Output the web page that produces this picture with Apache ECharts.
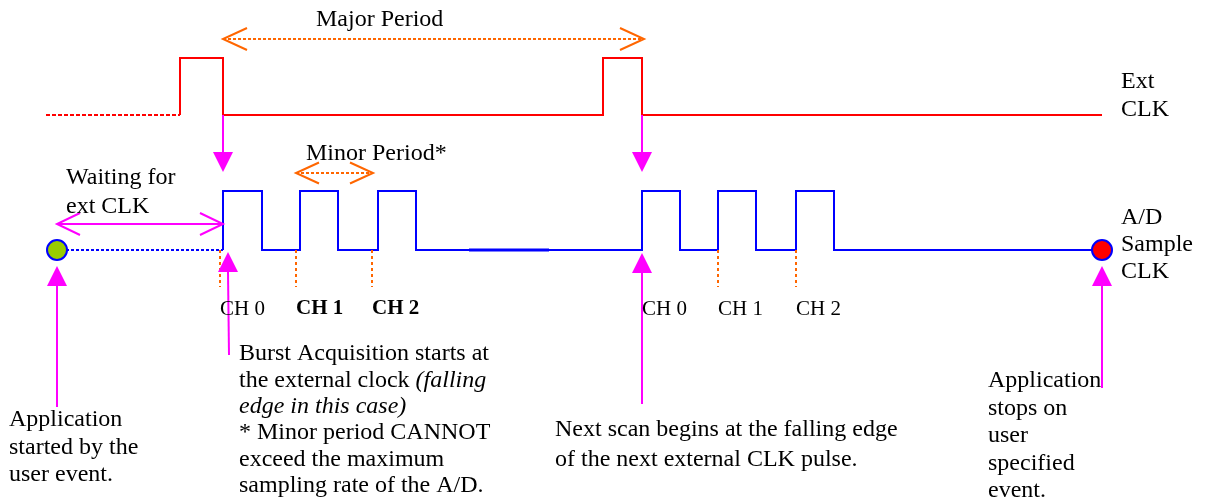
<!DOCTYPE html>
<html>
<head>
<meta charset="utf-8">
<script src="https://cdn.jsdelivr.net/npm/echarts@6/dist/echarts.min.js"></script>
<style>
  html, body { margin: 0; padding: 0; background: #fff; }
  #chart { width: 1205px; height: 503px; }
</style>
</head>
<body>
<div id="chart"></div>
<script>
// 信号电平 (画布坐标，y向下)
var extLow = 115;
var extHigh = 58;
var adLow = 250;
var adHigh = 191;

// 外部时钟脉冲: [上升沿, 下降沿]
var extPulses = [[180, 223], [603, 642]];
var extDottedFrom = 46;
var extEnd = 1102;

// A/D 采样时钟脉冲
var adPulses = [[223, 262], [300, 338], [378, 416], [642, 680], [718, 756], [796, 834]];
var adStartX = 57;
var adEndX = 1102;

// 通道刻度
var chTickX = [220, 296, 372, 718, 796];
var chNames = ['CH 0', 'CH 1', 'CH 2', 'CH 0', 'CH 1', 'CH 2'];
var chLabelX = [220, 296, 372, 642, 718, 796];
var chBold = [false, true, true, false, false, false];

// 周期箭头 [起点, 终点, y]
var majorSpan = [223, 644, 39];
var minorSpan = [296, 373, 173];
var waitSpan = [57, 223, 224];

// 品红指示箭头 [尾x, 尾y, 尖x, 尖y]
var pointerDown = [[223, 115, 223, 172], [642, 115, 642, 172]];
var pointerUp = [[57, 407, 57, 266], [229, 355, 228, 252], [642, 404, 642, 253], [1102, 388, 1102, 266]];

var fontFamily = "'Liberation Serif', 'Times New Roman', serif";

function stepPath(start, end, low, high, pulses) {
	var pts = [[start, low]];
	pulses.forEach(function (p) {
		pts.push([p[0], low], [p[0], high], [p[1], high], [p[1], low]);
	});
	pts.push([end, low]);
	return pts;
}

function chevron(tipX, tipY, dir, dx, dy) {
	// dir = 1 指向右, -1 指向左
	return [[tipX - dir * dx, tipY - dy], [tipX, tipY], [tipX - dir * dx, tipY + dy]];
}

function seg(coords, color, type, width) {
	return { coords: coords, lineStyle: { color: color, type: type || 'solid', width: width || 2, opacity: 1 } };
}

var orange = '#ff6600';
var magenta = '#ff00ff';
var paths = [];

// Ext CLK
paths.push(seg([[extDottedFrom, extLow], [extPulses[0][0], extLow]], '#ff0000', [4, 2]));
paths.push(seg(stepPath(extPulses[0][0], extEnd, extLow, extHigh, extPulses), '#ff0000'));

// A/D sample CLK
paths.push(seg([[adStartX + 9, adLow], [adPulses[0][0], adLow]], '#0000ff', [3, 2]));
paths.push(seg(stepPath(adPulses[0][0], adEndX, adLow, adHigh, adPulses), '#0000ff'));
paths.push(seg([[469, adLow], [549, adLow]], '#0000ff', 'solid', 3));

// 通道虚线
chTickX.forEach(function (x) {
	paths.push(seg([[x, adLow], [x, 287]], orange, [3, 3]));
});

// Major / Minor period
[[majorSpan, 24, 11], [minorSpan, 23, 10.5]].forEach(function (s) {
	var sp = s[0];
	paths.push(seg([[sp[0], sp[2]], [sp[1], sp[2]]], orange, [3, 2]));
	paths.push(seg(chevron(sp[0], sp[2], -1, s[1], s[2]), orange));
	paths.push(seg(chevron(sp[1], sp[2], 1, s[1], s[2]), orange));
});

// Waiting for ext CLK
paths.push(seg([[waitSpan[0], waitSpan[2]], [waitSpan[1], waitSpan[2]]], magenta));
paths.push(seg(chevron(waitSpan[0], waitSpan[2], -1, 23, 11), magenta));
paths.push(seg(chevron(waitSpan[1], waitSpan[2], 1, 23, 11), magenta));

// 指示箭头线段
var heads = [];
var headLen = 20;
pointerDown.forEach(function (a) {
	paths.push(seg([[a[0], a[1]], [a[2], a[3] - headLen]], magenta));
	heads.push({ value: [a[2], a[3] - headLen / 2], symbolRotate: 180 });
});
pointerUp.forEach(function (a) {
	paths.push(seg([[a[0], a[1]], [a[2], a[3] + headLen]], magenta));
	heads.push({ value: [a[2], a[3] + headLen / 2], symbolRotate: 0 });
});

// 文本
var texts = [
	{ t: 'Major Period', x: 316, y: 6, lh: 27 },
	{ t: 'Minor Period*', x: 306, y: 140, lh: 27 },
	{ t: 'Ext\nCLK', x: 1121, y: 68, lh: 28 },
	{ t: 'A/D\nSample\nCLK', x: 1121, y: 204, lh: 27 },
	{ t: 'Waiting for\next CLK', x: 66, y: 163, lh: 29 },
	{ t: 'Application\nstarted by the\nuser event.', x: 9, y: 406, lh: 27.5 },
	{ t: 'Burst Acquisition starts at\nthe external clock {i|(falling}\n{i|edge in this case)}\n* Minor period CANNOT\nexceed the maximum\nsampling rate of the A/D.', x: 239, y: 341, lh: 26.3 },
	{ t: 'Next scan begins at the falling edge\nof the next external CLK pulse.', x: 555, y: 415, lh: 30 },
	{ t: 'Application\nstops on\nuser\nspecified\nevent.', x: 988, y: 367, lh: 27.5 }
];
var textData = texts.map(function (d) {
	return {
		value: [d.x, d.y], name: d.t,
		label: { lineHeight: d.lh, rich: { i: { fontStyle: 'italic', fontSize: 24, fontFamily: fontFamily, color: '#000', lineHeight: d.lh } } }
	};
});
chNames.forEach(function (n, i) {
	textData.push({
		value: [chLabelX[i], 297], name: n,
		label: { fontSize: 21, lineHeight: 24, fontWeight: chBold[i] ? 'bold' : 'normal' }
	});
});

var chart = echarts.init(document.getElementById('chart'));
chart.setOption({
	animation: false,
	backgroundColor: '#fff',
	grid: { left: 0, right: 0, top: 0, bottom: 0 },
	xAxis: { type: 'value', min: 0, max: 1205, show: false },
	yAxis: { type: 'value', min: 0, max: 503, inverse: true, show: false },
	series: [
		{
			type: 'lines', coordinateSystem: 'cartesian2d', polyline: true, silent: true,
			data: paths, z: 2
		},
		{
			type: 'scatter', silent: true, symbol: 'triangle', symbolSize: [20, headLen],
			itemStyle: { color: magenta, opacity: 1 }, data: heads, z: 3
		},
		{
			type: 'scatter', silent: true, symbol: 'circle', symbolSize: 20, z: 4,
			itemStyle: { borderColor: '#0000ff', borderWidth: 2, opacity: 1 },
			data: [
				{ value: [adStartX, adLow], itemStyle: { color: '#99cc00' } },
				{ value: [adEndX, adLow], itemStyle: { color: '#ff0000' } }
			]
		},
		{
			type: 'scatter', silent: true, symbolSize: 0, z: 5,
			itemStyle: { opacity: 1 },
			label: {
				show: true, position: 'inside', align: 'left', verticalAlign: 'top',
				formatter: '{b}', color: '#000', opacity: 1, fontSize: 24, fontFamily: fontFamily
			},
			data: textData
		}
	]
});
</script>
</body>
</html>
